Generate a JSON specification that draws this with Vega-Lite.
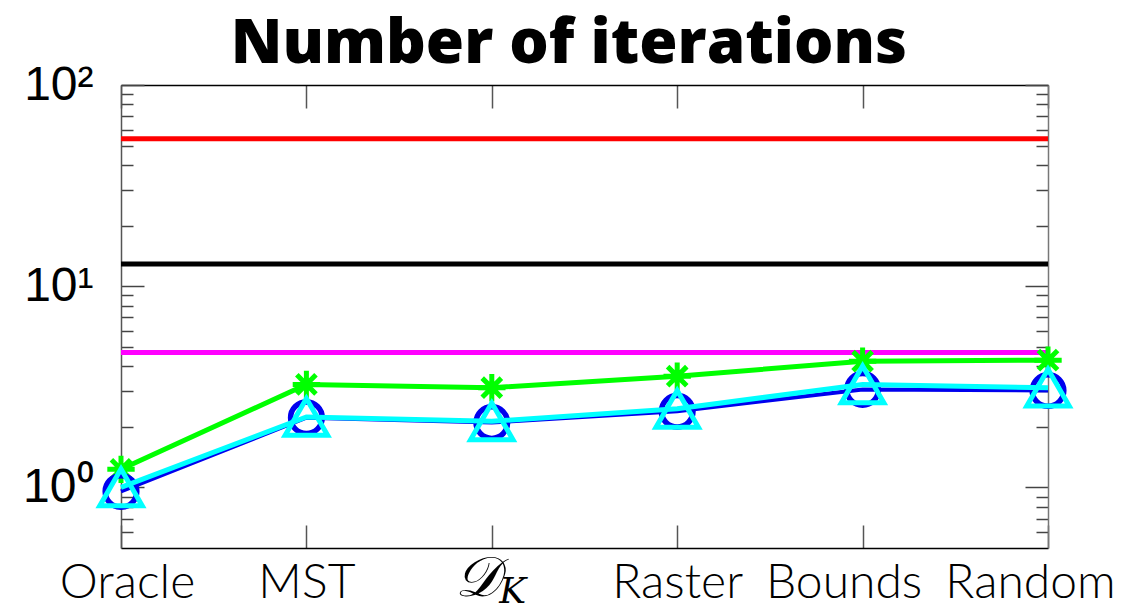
{
  "$schema": "https://vega.github.io/schema/vega-lite/v6.json",
  "width": 927,
  "height": 463,
  "autosize": "none",
  "padding": {"left": 121, "top": 85, "right": 82, "bottom": 61},
  "background": "white",
  "title": {
    "text": "Number of iterations",
    "font": "Open Sans",
    "fontWeight": 800,
    "fontSize": 62,
    "color": "black",
    "anchor": "middle",
    "frame": "bounds",
    "baseline": "alphabetic",
    "offset": 0,
    "dy": 64
  },
  "config": {
    "view": {"stroke": null},
    "axis": {"grid": false}
  },
  "datasets": {
    "levels": [
      {"series": "red", "value": 54.1},
      {"series": "black", "value": 12.9},
      {"series": "magenta", "value": 4.68}
    ],
    "runs": [
      {"method": "Oracle", "series": "blue", "value": 0.955},
      {"method": "MST", "series": "blue", "value": 2.22},
      {"method": "DK", "series": "blue", "value": 2.10},
      {"method": "Raster", "series": "blue", "value": 2.39},
      {"method": "Bounds", "series": "blue", "value": 3.07},
      {"method": "Random", "series": "blue", "value": 3.03},
      {"method": "Oracle", "series": "cyan", "value": 1.0},
      {"method": "MST", "series": "cyan", "value": 2.24},
      {"method": "DK", "series": "cyan", "value": 2.13},
      {"method": "Raster", "series": "cyan", "value": 2.46},
      {"method": "Bounds", "series": "cyan", "value": 3.25},
      {"method": "Random", "series": "cyan", "value": 3.13},
      {"method": "Oracle", "series": "green", "value": 1.23},
      {"method": "MST", "series": "green", "value": 3.25},
      {"method": "DK", "series": "green", "value": 3.13},
      {"method": "Raster", "series": "green", "value": 3.57},
      {"method": "Bounds", "series": "green", "value": 4.24},
      {"method": "Random", "series": "green", "value": 4.29}
    ],
    "dk": [
      {"method": "DK", "main": "𝒟", "sub": "K"}
    ]
  },
  "resolve": {"axis": {"x": "independent", "y": "independent"}},
  "layer": [
    {
      "data": {"name": "levels"},
      "mark": {"type": "rule", "strokeWidth": 5},
      "encoding": {
        "y": {
          "field": "value",
          "type": "quantitative",
          "scale": {"type": "log", "domain": [0.5, 100], "nice": false},
          "axis": {
            "orient": "left",
            "title": null,
            "values": [0.6, 0.7, 0.8, 0.9, 1, 2, 3, 4, 5, 6, 7, 8, 9, 10, 20, 30, 40, 50, 60, 70, 80, 90, 100],
            "labelExpr": "datum.value == 100 ? '10²' : datum.value == 10 ? '10¹' : datum.value == 1 ? '10⁰' : ''",
            "labelFont": "Liberation Sans",
            "labelFontSize": 48,
            "labelColor": "black",
            "labelPadding": 51,
            "labelBaseline": "middle",
            "tickSize": {"condition": {"test": "datum.value == 1 || datum.value == 10 || datum.value == 100", "value": -23}, "value": -12},
            "tickColor": "#444444",
            "tickWidth": 1.5,
            "domainColor": "#555555",
            "domainWidth": 1.5
          }
        },
        "color": {
          "field": "series",
          "type": "nominal",
          "scale": {
            "domain": ["red", "black", "magenta", "green", "blue", "cyan"],
            "range": ["#ff0000", "#000000", "#ff00ff", "#00ff00", "#0000ee", "#00ffff"]
          },
          "legend": null
        }
      }
    },
    {
      "data": {"name": "runs"},
      "transform": [{"filter": "datum.series == 'green'"}],
      "layer": [
        {"mark": {"type": "line", "strokeWidth": 5}},
        {"mark": {"type": "point", "shape": "M0,-1V1M-1,0H1M-0.7,-0.7L0.7,0.7M-0.7,0.7L0.7,-0.7", "size": 750, "strokeWidth": 5, "filled": false, "opacity": 1}}
      ],
      "encoding": {
        "x": {
          "field": "method",
          "type": "nominal",
          "sort": ["Oracle", "MST", "DK", "Raster", "Bounds", "Random"],
          "scale": {"type": "point", "padding": 0},
          "axis": {
            "orient": "bottom",
            "title": null,
            "labelAngle": 0,
            "labelExpr": "datum.value == 'DK' ? '' : datum.value",
            "labelFont": "Lato",
            "labelFontWeight": 300,
            "labelFontSize": 48,
            "labelColor": "black",
            "labelBaseline": "alphabetic",
            "labelPadding": 72,
            "labelOffset": {
              "condition": [
                {"test": "datum.value == 'Bounds'", "value": -19},
                {"test": "datum.value == 'Random'", "value": -18},
                {"test": "datum.value == 'Oracle'", "value": 6}
              ],
              "value": 0
            },
            "tickSize": -23,
            "tickColor": "#555555",
            "tickWidth": 1.5,
            "domainColor": "#000000",
            "domainWidth": 1.5
          }
        },
        "y": {
          "field": "value",
          "type": "quantitative",
          "axis": {
            "orient": "right",
            "title": null,
            "values": [0.6, 0.7, 0.8, 0.9, 1, 2, 3, 4, 5, 6, 7, 8, 9, 10, 20, 30, 40, 50, 60, 70, 80, 90, 100],
            "labels": false,
            "tickSize": {"condition": {"test": "datum.value == 1 || datum.value == 10 || datum.value == 100", "value": -23}, "value": -12},
            "tickColor": "#444444",
            "tickWidth": 1.5,
            "domainColor": "#777777",
            "domainWidth": 1.5
          }
        },
        "color": {"field": "series", "type": "nominal", "legend": null}
      }
    },
    {
      "data": {"name": "runs"},
      "transform": [{"filter": "datum.series == 'blue'"}],
      "layer": [
        {"mark": {"type": "line", "strokeWidth": 4}},
        {"mark": {"type": "point", "shape": "circle", "size": 1000, "strokeWidth": 5.5, "filled": false, "opacity": 1}}
      ],
      "encoding": {
        "x": {
          "field": "method",
          "type": "nominal",
          "sort": ["Oracle", "MST", "DK", "Raster", "Bounds", "Random"],
          "axis": {
            "orient": "top",
            "title": null,
            "labels": false,
            "tickSize": -23,
            "tickColor": "#555555",
            "tickWidth": 1.5,
            "domainColor": "#000000",
            "domainWidth": 1.5
          }
        },
        "y": {"field": "value", "type": "quantitative", "axis": null},
        "color": {"field": "series", "type": "nominal", "legend": null}
      }
    },
    {
      "data": {"name": "runs"},
      "transform": [{"filter": "datum.series == 'cyan'"}],
      "layer": [
        {"mark": {"type": "line", "strokeWidth": 5}},
        {"mark": {"type": "point", "shape": "triangle-up", "size": 1800, "strokeWidth": 5, "filled": false, "opacity": 1}}
      ],
      "encoding": {
        "x": {"field": "method", "type": "nominal", "sort": ["Oracle", "MST", "DK", "Raster", "Bounds", "Random"], "axis": null},
        "y": {"field": "value", "type": "quantitative", "axis": null},
        "color": {"field": "series", "type": "nominal", "legend": null}
      }
    },
    {
      "data": {"name": "dk"},
      "layer": [
        {
          "mark": {"type": "text", "font": "DejaVu Serif", "fontStyle": "italic", "fontSize": 56, "baseline": "alphabetic", "align": "center", "dx": -14, "dy": 48, "color": "black"},
          "encoding": {"text": {"field": "main"}}
        },
        {
          "mark": {"type": "text", "font": "DejaVu Serif", "fontStyle": "italic", "fontSize": 36, "baseline": "alphabetic", "align": "center", "dx": 21, "dy": 55, "color": "black"},
          "encoding": {"text": {"field": "sub"}}
        }
      ],
      "encoding": {
        "x": {"field": "method", "type": "nominal", "sort": ["Oracle", "MST", "DK", "Raster", "Bounds", "Random"], "axis": null},
        "y": {"datum": 0.5, "type": "quantitative", "axis": null}
      }
    }
  ]
}
